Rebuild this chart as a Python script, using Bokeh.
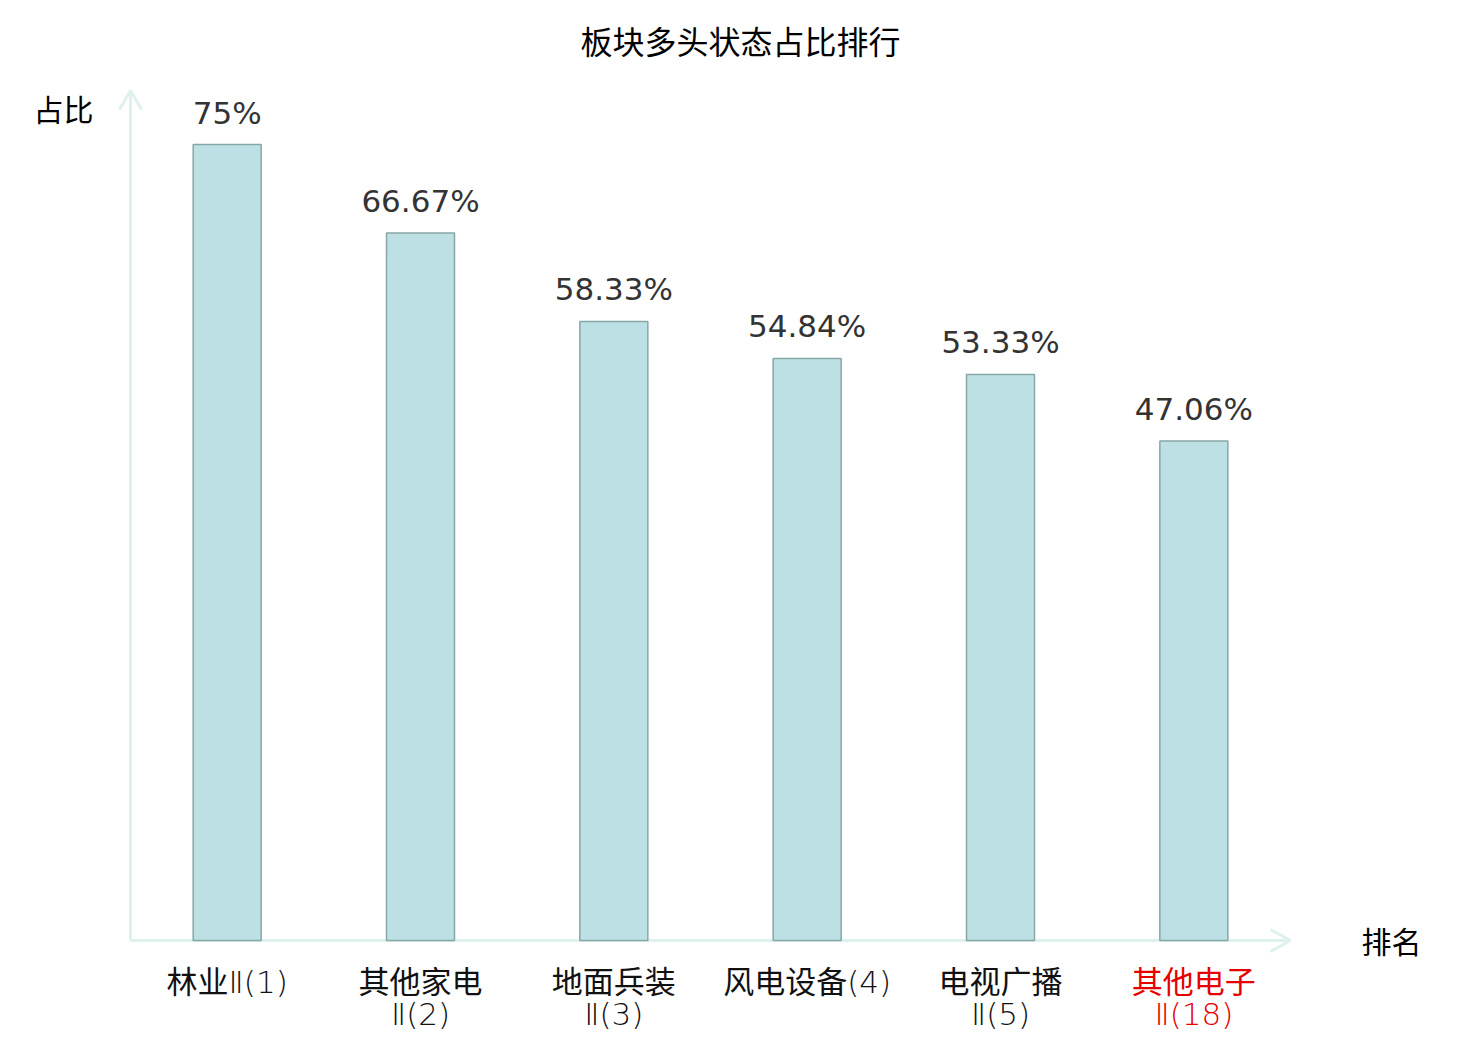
from bokeh.plotting import figure
from bokeh.models import Range1d, ColumnDataSource
from bokeh.core.properties import value
from bokeh.embed import file_html
from bokeh.resources import INLINE

# ---- data ----
categories = ["林业Ⅱ(1)", "其他家电\nⅡ(2)", "地面兵装\nⅡ(3)", "风电设备(4)", "电视广播\nⅡ(5)", "其他电子\nⅡ(18)"]
shares = [75, 66.67, 58.33, 54.84, 53.33, 47.06]
highlight = [False, False, False, False, False, True]
title_text = "板块多头状态占比排行"
y_name = "占比"
x_name = "排名"

# ---- layout constants (image pixels) ----
W, H = 1480, 1040
OFF = 0
X0_IMG, XW = 130.0, 1160.0 / 6.0      # x origin and pixels per category band
Y0_IMG, YS = 940.0, 796.0 / 75.0      # y origin and pixels per percent

def dx(px):
    return (px - X0_IMG) / XW

def dy(py):
    return (Y0_IMG - py) / YS

p = figure(width=W, height=H, output_backend="svg", toolbar_location=None,
           x_range=Range1d(dx(OFF), dx(OFF + W)), y_range=Range1d(dy(OFF + H), dy(OFF)),
           min_border=0, min_border_left=0, min_border_right=0,
           min_border_top=0, min_border_bottom=0)
p.axis.visible = False
p.grid.visible = False
p.outline_line_color = None
p.background_fill_color = "white"
p.border_fill_color = "white"

n = len(categories)
xs = [i + 0.5 for i in range(n)]

# ---- axes with arrows ----
axis_col = "#dff1ee"
p.line([0, dx(1290)], [0, 0], line_color=axis_col, line_width=3)
p.line([dx(1270), dx(1290), dx(1270)], [dy(929), 0, dy(951)], line_color=axis_col, line_width=3)
p.line([0, 0], [0, dy(90)], line_color=axis_col, line_width=3)
p.line([dx(119), 0, dx(141)], [dy(109), dy(90), dy(109)], line_color=axis_col, line_width=3)

# ---- bars ----
src = ColumnDataSource(dict(x=xs, top=shares,
                            lab=[f"{v:g}%" for v in shares],
                            ly=[v + 32.0 / YS for v in shares]))
p.vbar(x="x", top="top", bottom=0, width=68.0 / XW, source=src,
       fill_color="#bce0e3", line_color="#88a6a6", line_width=1.5)

# ---- value labels ----
p.text(x="x", y="ly", text="lab", source=src, text_align="center", text_baseline="alphabetic",
       text_font=value("DejaVu Sans"), text_font_size="31px", text_color="#333333")

# ---- category labels ----
line1 = [c.split("\n")[0] for c in categories]
line2 = [c.split("\n")[1] if "\n" in c else "" for c in categories]
cols = ["#e60000" if h else "#111111" for h in highlight]
csrc = ColumnDataSource(dict(x=xs, l1=line1, l2=line2, c=cols,
                             y1=[dy(981)] * n, y2=[dy(1013)] * n))
lab_font = value("'DejaVu Sans Light', 'DejaVu Sans ExtraLight', 'DejaVu Sans', 'Noto Sans CJK SC'")
p.text(x="x", y="y1", text="l1", source=csrc, text_align="center", text_baseline="middle",
       text_font=lab_font, text_font_size="31px", text_color="c")
p.text(x="x", y="y2", text="l2", source=csrc, text_align="center", text_baseline="middle",
       text_font=lab_font, text_font_size="31px", text_color="c")

# ---- title and axis names ----
p.text(x=[dx(740)], y=[dy(39)], text=[title_text], text_align="center", text_baseline="middle",
       text_font=value("Noto Sans CJK SC"), text_font_size="32px", text_color="#000000")
p.text(x=[dx(63)], y=[dy(107)], text=[y_name], text_align="center", text_baseline="middle",
       text_font=value("Noto Sans CJK SC"), text_font_size="30px", text_color="#000000")
p.text(x=[dx(1391)], y=[dy(939)], text=[x_name], text_align="center", text_baseline="middle",
       text_font=value("Noto Sans CJK SC"), text_font_size="30px", text_color="#000000")

open("out.html", "w").write(file_html(p, INLINE))
